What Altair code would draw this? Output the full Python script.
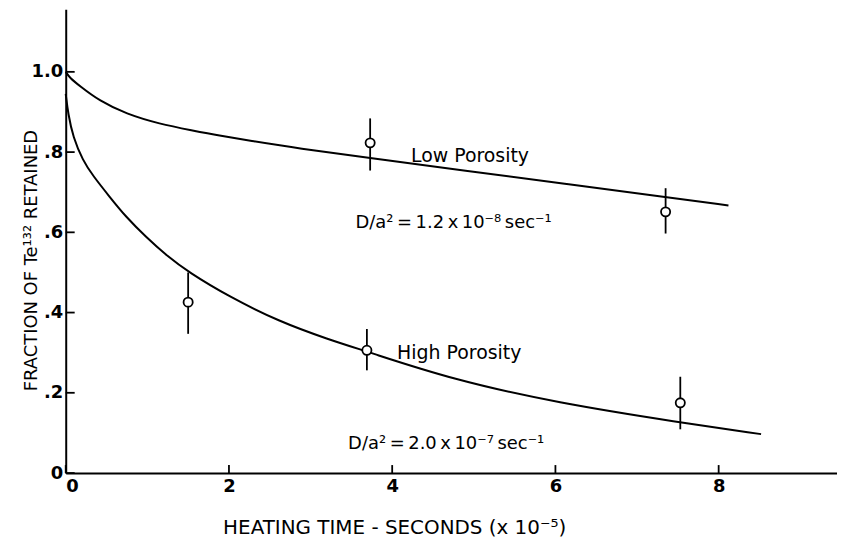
import altair as alt
import pandas as pd

# ---- data ----
low_curve_x = [0, 0.05, 0.17, 0.41, 0.74, 1.15, 1.55, 1.88, 2.24, 2.85, 3.73, 4.89, 6.11, 7.35, 8.12]
low_curve_y = [1.0, 0.985, 0.965, 0.928, 0.895, 0.870, 0.854, 0.841, 0.829, 0.809, 0.785, 0.754, 0.721, 0.688, 0.667]

high_curve_x = [0, 0.03, 0.09, 0.21, 0.33, 0.54, 0.74, 0.98, 1.23, 1.51, 2.0, 2.61, 3.22, 3.69, 4.74, 6.02, 7.53, 8.52]
high_curve_y = [0.945, 0.895, 0.837, 0.779, 0.742, 0.688, 0.638, 0.589, 0.543, 0.500, 0.440, 0.378, 0.333, 0.303, 0.233, 0.175, 0.126, 0.097]

low_pts_x = [3.73, 7.35]
low_pts_y = [0.823, 0.651]
low_pts_lo = [0.754, 0.597]
low_pts_hi = [0.884, 0.710]

high_pts_x = [1.50, 3.69, 7.53]
high_pts_y = [0.426, 0.306, 0.175]
high_pts_lo = [0.347, 0.256, 0.109]
high_pts_hi = [0.500, 0.359, 0.240]

xtick_values = [0, 2, 4, 6, 8]
ytick_values = [0, 0.2, 0.4, 0.6, 0.8, 1.0]
ytick_labels = ["0\u00a0\u00a0", ".2", ".4", ".6", ".8", "1.0"]

notes_text = ["Low Porosity", "D/a\u00b2\u2009=\u20091.2\u2009x\u200910\u207b\u2078\u2009sec\u207b\u00b9",
              "High Porosity", "D/a\u00b2\u2009=\u20092.0\u2009x\u200910\u207b\u2077\u2009sec\u207b\u00b9"]
notes_x = [4.23, 3.55, 4.06, 3.46]
notes_y = [0.775, 0.61, 0.285, 0.06]
notes_size = [19, 18, 19, 18]

x_title = "HEATING TIME - SECONDS (x 10\u207b\u2075)"
y_title = "FRACTION OF Te\u00b9\u00b3\u00b2 RETAINED"

# ---- tables ----
curves = pd.concat([
    pd.DataFrame({"t": low_curve_x, "f": low_curve_y, "s": "low"}),
    pd.DataFrame({"t": high_curve_x, "f": high_curve_y, "s": "high"}),
])
pts = pd.concat([
    pd.DataFrame({"t": low_pts_x, "f": low_pts_y, "lo": low_pts_lo, "hi": low_pts_hi, "s": "low"}),
    pd.DataFrame({"t": high_pts_x, "f": high_pts_y, "lo": high_pts_lo, "hi": high_pts_hi, "s": "high"}),
])
notes = pd.DataFrame({"t": notes_x, "f": notes_y, "txt": notes_text, "sz": notes_size})
xticks = pd.DataFrame({"t": xtick_values})
yticks = pd.DataFrame({"f": ytick_values})

W, H = 775, 466
FONT = "DejaVu Sans"

xscale = alt.Scale(domain=[0, 9.45], nice=False, zero=False)
yscale = alt.Scale(domain=[0, 1.156], nice=False, zero=False)

label_expr = "''"
for v, l in zip(ytick_values, ytick_labels):
    label_expr = f"abs(datum.value-{v})<1e-6 ? '{l}' : ({label_expr})"

xaxis = alt.Axis(values=xtick_values, format="d", title=x_title, ticks=False, grid=False,
                 domainColor="black", domainWidth=2, labelFont=FONT, labelFontSize=18,
                 labelFontWeight="bold",
                 labelColor="black", labelPadding=5, titleFont=FONT, titleFontSize=20,
                 titleFontWeight="normal", titleColor="black", titleX=330, titleY=61,
                 titleAlign="center", titleBaseline="alphabetic")
yaxis = alt.Axis(values=ytick_values, labelExpr=label_expr, title=y_title, ticks=False, grid=False,
                 domainColor="black", domainWidth=2, labelFont=FONT, labelFontSize=18,
                 labelFontWeight="bold",
                 labelColor="black", labelPadding=3, titleFont=FONT, titleFontSize=18,
                 titleFontWeight="normal", titleColor="black", titleX=-34, titleY=252,
                 titleAngle=-90, titleAlign="center", titleBaseline="middle")

X = alt.X("t:Q", scale=xscale, axis=xaxis)
Y = alt.Y("f:Q", scale=yscale, axis=yaxis)

lines = alt.Chart(curves).mark_line(color="black", strokeWidth=2, interpolate="basis").encode(
    x=X, y=Y, detail="s:N")

errs = alt.Chart(pts).mark_rule(color="black", strokeWidth=1.8).encode(
    x=alt.X("t:Q", scale=xscale), y=alt.Y("lo:Q", scale=yscale), y2="hi:Q")

dots = alt.Chart(pts).mark_point(shape="circle", filled=False, fill="white", fillOpacity=1,
                                 color="black", strokeWidth=1.8, size=85, opacity=1).encode(
    x=alt.X("t:Q", scale=xscale), y=alt.Y("f:Q", scale=yscale))

texts = alt.Chart(notes).mark_text(align="left", baseline="alphabetic", font=FONT,
                                   color="black").encode(
    x=alt.X("t:Q", scale=xscale), y=alt.Y("f:Q", scale=yscale), text="txt:N",
    size=alt.Size("sz:Q", scale=None, legend=None))

xt = alt.Chart(xticks).mark_rule(color="black", strokeWidth=1.8).encode(
    x=alt.X("t:Q", scale=xscale), y=alt.value(H), y2=alt.value(H - 8))
yt = alt.Chart(yticks).mark_rule(color="black", strokeWidth=1.8).encode(
    y=alt.Y("f:Q", scale=yscale), x=alt.value(0), x2=alt.value(9))

chart = alt.layer(lines, errs, dots, texts, xt, yt).properties(
    width=W, height=H,
    padding={"left": 58, "top": 0, "right": 0, "bottom": 64},
    autosize=alt.AutoSizeParams(type="none"),
    background="white",
).configure_view(stroke=None)

chart.save("out.html", embed_options={"renderer": "svg", "actions": False})
